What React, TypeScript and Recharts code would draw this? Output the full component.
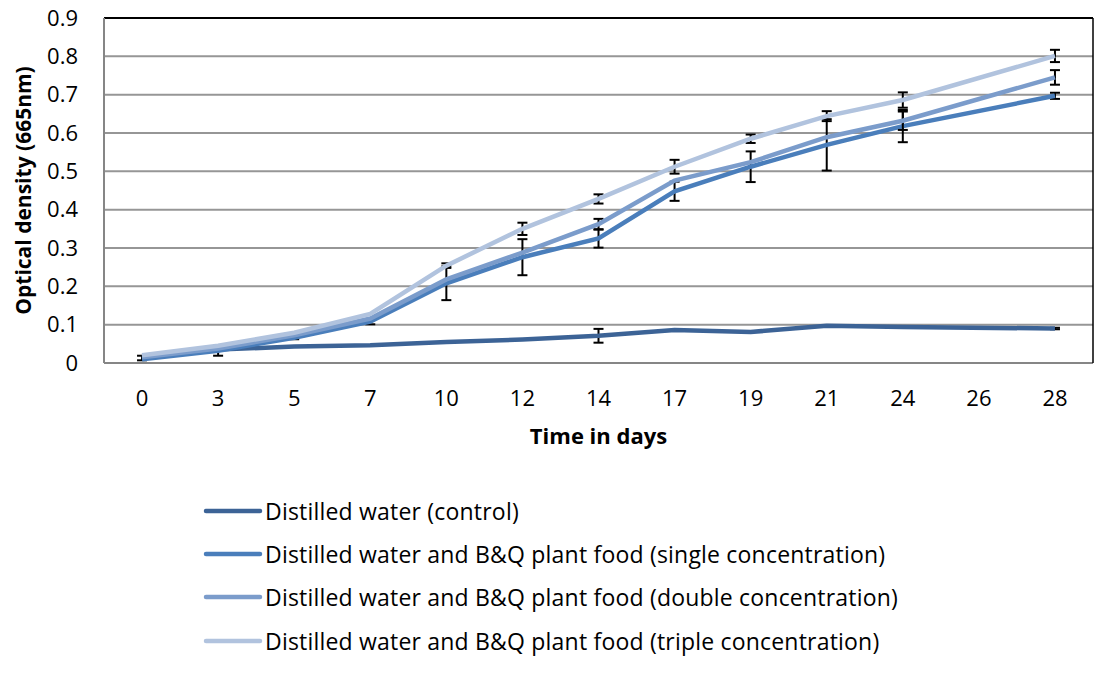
import React from 'react';
import {
  LineChart, Line, XAxis, YAxis, CartesianGrid, ErrorBar, Legend, ReferenceLine,
} from 'recharts';

// Sampling days (26 has no reading, the lines skip it)
const days = ['0', '3', '5', '7', '10', '12', '14', '17', '19', '21', '24', '26', '28'];

const control = [0.013, 0.035, 0.043, 0.046, 0.055, 0.061, 0.071, 0.086, 0.081, 0.097, 0.094, null, 0.09];
const single = [0.01, 0.032, 0.066, 0.108, 0.208, 0.276, 0.325, 0.448, 0.512, 0.569, 0.618, null, 0.697];
const double = [0.015, 0.038, 0.072, 0.116, 0.218, 0.288, 0.362, 0.476, 0.524, 0.589, 0.632, null, 0.745];
const triple = [0.02, 0.045, 0.079, 0.128, 0.254, 0.35, 0.428, 0.512, 0.585, 0.644, 0.686, null, 0.801];

// Standard error (symmetric), null where no bar is drawn
const controlErr = [0.006, null, null, null, null, null, 0.018, null, null, null, null, null, 0.002];
const singleErr = [null, 0.013, 0.004, 0.007, 0.044, 0.047, 0.024, 0.025, 0.04, 0.067, 0.042, null, 0.008];
const doubleErr = [null, null, null, null, null, null, 0.014, null, null, null, 0.024, null, 0.019];
const tripleErr = [null, null, null, null, 0.006, 0.016, 0.012, 0.018, 0.011, 0.013, 0.02, null, 0.016];

const yTicks = [0, 0.1, 0.2, 0.3, 0.4, 0.5, 0.6, 0.7, 0.8, 0.9];

const seriesKeys = ['control', 'single', 'double', 'triple'];
const seriesNames = [
  'Distilled water (control)',
  'Distilled water and B&Q plant food (single concentration)',
  'Distilled water and B&Q plant food (double concentration)',
  'Distilled water and B&Q plant food (triple concentration)',
];
const seriesColors = ['#3C6396', '#4A7EBB', '#7B9CCB', '#B1C3DE'];

const data = days.map((day, i) => ({
  day,
  control: control[i],
  controlErr: controlErr[i],
  single: single[i],
  singleErr: singleErr[i],
  double: double[i],
  doubleErr: doubleErr[i],
  triple: triple[i],
  tripleErr: tripleErr[i],
}));

const FONT = '"Open Sans", sans-serif';

// rotated y-axis title, centred on the plot height
const YTitle = (props: any) => {
  const { x, y, height } = props.viewBox;
  const cx = x + 23;
  const cy = y + height / 2;
  return (
    <text
      x={cx}
      y={cy}
      transform={`rotate(-90, ${cx}, ${cy})`}
      textAnchor="middle"
      dominantBaseline="central"
      fontFamily={FONT}
      fontWeight="bold"
      fontSize={21}
      fill="#000"
    >
      Optical density (665nm)
    </text>
  );
};

const renderLegend = () => (
  <div style={{ fontFamily: FONT, fontSize: 23, letterSpacing: 0.2, color: '#000' }}>
    {seriesNames.map((name, i) => (
      <div key={name} style={{ display: 'flex', alignItems: 'center', height: 43.4 }}>
        <svg width={60} height={10} style={{ display: 'block' }}>
          <line x1={3} y1={5} x2={57} y2={5} stroke={seriesColors[i]} strokeWidth={4.5} strokeLinecap="round" />
        </svg>
        <span style={{ marginLeft: 2, whiteSpace: 'nowrap' }}>{name}</span>
      </div>
    ))}
  </div>
);

const App: React.FC = () => {
  return (
    <div style={{ position: 'absolute', left: 0, top: 0 }}>
      <LineChart
        width={1096}
        height={675}
        data={data}
        margin={{ top: 18, right: 0, left: 0, bottom: 222 }}
        style={{ fontFamily: FONT }}
      >
        <CartesianGrid vertical={false} stroke="#969696" strokeWidth={2} />
        <XAxis
          dataKey="day"
          scale="band"
          height={90}
          tickSize={0}
          tickMargin={27}
          tick={{ fontSize: 22, fill: '#000' }}
          axisLine={{ stroke: '#868686', strokeWidth: 2 }}
          tickLine={false}
          label={{
            value: 'Time in days',
            position: 'insideBottom',
            offset: 9,
            style: { fontWeight: 'bold', fontSize: 22, fill: '#000' },
          }}
        />
        <YAxis
          domain={[0, 0.9]}
          ticks={yTicks}
          width={104}
          tickSize={0}
          tickMargin={26}
          tick={{ fontSize: 22, fill: '#000' }}
          axisLine={{ stroke: '#868686', strokeWidth: 2 }}
          tickLine={false}
          label={<YTitle />}
        />
        <YAxis
          yAxisId="frame"
          orientation="right"
          width={3}
          tick={false}
          tickLine={false}
          axisLine={{ stroke: '#000', strokeWidth: 1.5 }}
        />
        <ReferenceLine y={0.9} stroke="#000" strokeWidth={2} />
        {seriesKeys.map((key, i) => (
          <Line
            key={key}
            type="linear"
            dataKey={key}
            name={seriesNames[i]}
            stroke={seriesColors[i]}
            strokeWidth={4.5}
            dot={false}
            activeDot={false}
            connectNulls
            isAnimationActive={false}
          >
            <ErrorBar dataKey={`${key}Err`} direction="y" width={5} stroke="#000" strokeWidth={2} />
          </Line>
        ))}
        <Legend
          layout="vertical"
          align="center"
          verticalAlign="middle"
          wrapperStyle={{ left: 203, top: 489, width: 880 }}
          content={renderLegend}
        />
      </LineChart>
    </div>
  );
};

export default App;
